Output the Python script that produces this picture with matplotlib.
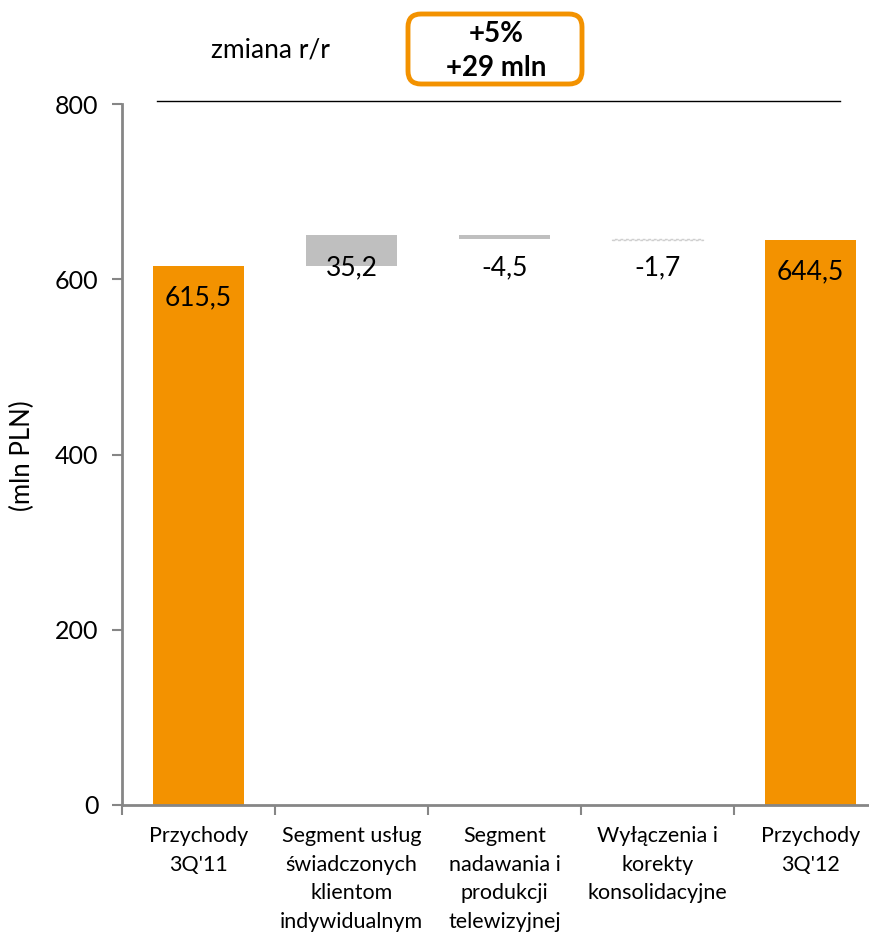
import matplotlib
matplotlib.use("Agg")
import matplotlib.pyplot as plt
from matplotlib.patches import FancyBboxPatch
from matplotlib.lines import Line2D

plt.rcParams["font.family"] = ["Lato", "DejaVu Sans"]

# ---------------------------------------------------------------------------
# Data
# ---------------------------------------------------------------------------
categories = [
    "Przychody\n3Q'11",
    "Segment usług\nświadczonych\nklientom\nindywidualnym",
    "Segment\nnadawania i\nprodukcji\ntelewizyjnej",
    "Wyłączenia i\nkorekty\nkonsolidacyjne",
    "Przychody\n3Q'12",
]
start_value = 615.5
deltas = [35.2, -4.5, -1.7]
end_value = 644.5
value_labels = ["615,5", "35,2", "-4,5", "-1,7", "644,5"]
yticks = [0, 200, 400, 600, 800]
change_pct = "+5%"
change_abs = "+29 mln"

ORANGE = "#F39200"
GRAY = "#BFBFBF"
AXIS = "#868686"

fig = plt.figure(figsize=(8.7, 9.34), dpi=100)
ax = fig.add_axes([122 / 870, 129 / 934, 765 / 870, 701 / 934])

width = 0.59
# totals
ax.bar(0, start_value, width=width, color=ORANGE)
ax.bar(4, end_value, width=width, color=ORANGE)

# waterfall steps
running = start_value
for i, d in enumerate(deltas, start=1):
    bottom = running if d >= 0 else running + d
    if i == 3:
        ax.bar(i, abs(d), bottom=bottom, width=width, facecolor="#EDEDED",
               edgecolor="#CFCFCF", linewidth=1.0, linestyle=(0, (2, 2)))
    else:
        ax.bar(i, abs(d), bottom=bottom, width=width, color=GRAY)
    running += d

# value labels
ax.annotate(value_labels[0], xy=(0, start_value), xytext=(0, -23),
            textcoords="offset points", ha="center", va="center", fontsize=19)
ax.annotate(value_labels[4], xy=(4, end_value), xytext=(0, -23),
            textcoords="offset points", ha="center", va="center", fontsize=19)
for i in range(1, 4):
    ax.annotate(value_labels[i], xy=(i, start_value), xytext=(0, -1.5),
                textcoords="offset points", ha="center", va="center", fontsize=19)

# axes styling
ax.set_xlim(-0.5, 4.5)
ax.set_ylim(0, 800)
ax.set_yticks(yticks)
ax.set_yticklabels([str(v) for v in yticks], fontsize=18)
ax.set_xticks(range(len(categories)))
ax.set_xticklabels(categories, fontsize=15.5)
for t in ax.get_xticklabels():
    t.set_linespacing(1.55)
ax.set_xticks([i - 0.5 for i in range(len(categories) + 1)], minor=True)
ax.tick_params(axis="x", which="major", length=0, pad=15)
ax.tick_params(axis="x", which="minor", length=7, width=1.5, color=AXIS)
ax.tick_params(axis="y", length=7, width=1.5, color=AXIS, pad=10)
for side in ("top", "right"):
    ax.spines[side].set_visible(False)
for side in ("left", "bottom"):
    ax.spines[side].set_color(AXIS)
    ax.spines[side].set_linewidth(2)

fig.text(22 / 870, 1 - 456 / 934, "(mln PLN)", rotation=90, ha="center",
         va="center", fontsize=18.5)

# header
fig.add_artist(Line2D([157 / 870, 840 / 870], [1 - 101 / 934, 1 - 101 / 934],
                      color="black", linewidth=1))
fig.text(270 / 870, 1 - 50 / 934, "zmiana r/r", ha="center", va="center",
         fontsize=19)
box = FancyBboxPatch((4.08, 8.50), 1.74, 0.70,
                     boxstyle="round,pad=0,rounding_size=0.13",
                     transform=fig.dpi_scale_trans, facecolor="white",
                     edgecolor=ORANGE, linewidth=3.5)
fig.add_artist(box)
fig.text(496 / 870, 1 - 51 / 934, f"{change_pct}\n{change_abs}", ha="center",
         va="center", fontsize=20, fontweight="bold", linespacing=1.35)

fig.savefig("out.png", dpi=100)
